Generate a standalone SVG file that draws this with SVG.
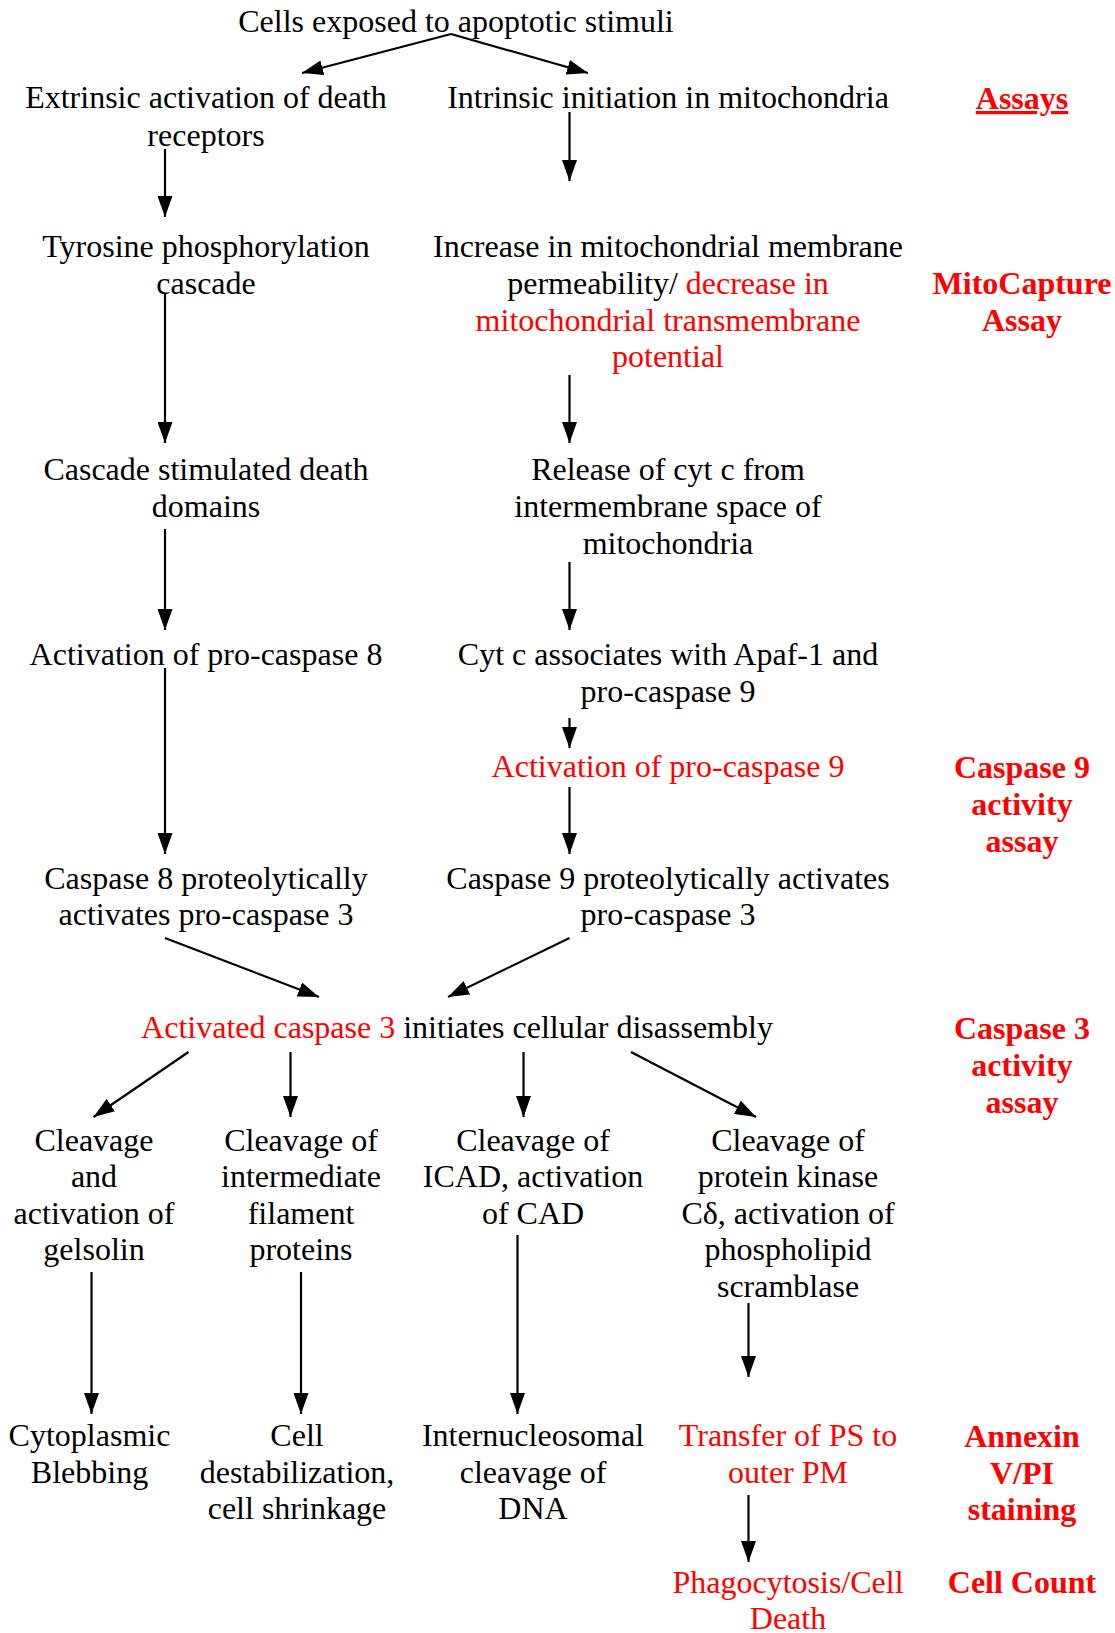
<svg xmlns="http://www.w3.org/2000/svg" width="1115" height="1633" viewBox="0 0 1115 1633">
<style>
text{font-family:"Liberation Serif","Times New Roman",serif;font-size:32px;fill:#000;text-anchor:middle}
.r{fill:#ff0000}
.a{fill:#ff0000;font-weight:bold}
.c{stroke:#000;stroke-width:2.2;fill:none;marker-end:url(#ah)}
</style>
<defs>
<marker id="ah" markerUnits="userSpaceOnUse" markerWidth="21" markerHeight="15" refX="21" refY="7.5" orient="auto">
<path d="M0,0 L21,7.5 L0,15 z" fill="#000"/>
</marker>
</defs>
<rect width="1115" height="1633" fill="#fff"/>
<g id="connectors">
<line class="c" x1="451" y1="34" x2="302" y2="73"/>
<line class="c" x1="451" y1="34" x2="588" y2="73"/>
<line class="c" x1="165" y1="149" x2="165" y2="217"/>
<line class="c" x1="569.5" y1="112" x2="569.5" y2="181"/>
<line class="c" x1="165" y1="293" x2="165" y2="443"/>
<line class="c" x1="569.5" y1="375" x2="569.5" y2="443"/>
<line class="c" x1="165" y1="529" x2="165" y2="630"/>
<line class="c" x1="569.5" y1="562" x2="569.5" y2="630"/>
<line class="c" x1="165" y1="668" x2="165" y2="854"/>
<line class="c" x1="569.5" y1="718" x2="569.5" y2="748"/>
<line class="c" x1="569.5" y1="787" x2="569.5" y2="854"/>
<line class="c" x1="165" y1="938" x2="319" y2="997"/>
<line class="c" x1="569.5" y1="938" x2="448" y2="997"/>
<line class="c" x1="188.5" y1="1052" x2="93.5" y2="1117"/>
<line class="c" x1="290.5" y1="1052" x2="290.5" y2="1117"/>
<line class="c" x1="523.5" y1="1052" x2="523.5" y2="1117"/>
<line class="c" x1="631" y1="1052" x2="756" y2="1117"/>
<line class="c" x1="91.5" y1="1272" x2="91.5" y2="1414"/>
<line class="c" x1="301" y1="1272" x2="301" y2="1414"/>
<line class="c" x1="517.5" y1="1235" x2="517.5" y2="1414"/>
<line class="c" x1="748.5" y1="1303" x2="748.5" y2="1377"/>
<line class="c" x1="748.5" y1="1495" x2="748.5" y2="1562"/>
</g>
<g id="n-stimuli"><text x="456" y="32">Cells exposed to apoptotic stimuli</text></g>
<g id="n-extrinsic"><text x="206" y="108">Extrinsic activation of death</text><text x="206" y="145.5">receptors</text></g>
<g id="n-intrinsic"><text x="668" y="108">Intrinsic initiation in mitochondria</text></g>
<g id="n-assays"><text class="a" x="1022" y="109" text-decoration="underline">Assays</text></g>
<g id="n-tyrosine"><text x="206" y="257">Tyrosine phosphorylation</text><text x="206" y="294">cascade</text></g>
<g id="n-permeability"><text x="668" y="257">Increase in mitochondrial membrane</text><text x="668" y="294">permeability/ <tspan class="r">decrease in</tspan></text><text class="r" x="668" y="330.5">mitochondrial transmembrane</text><text class="r" x="668" y="367">potential</text></g>
<g id="n-mitocapture"><text class="a" x="1022" y="294">MitoCapture</text><text class="a" x="1022" y="330.5">Assay</text></g>
<g id="n-death-domains"><text x="206" y="480">Cascade stimulated death</text><text x="206" y="517">domains</text></g>
<g id="n-cytc"><text x="668" y="480">Release of cyt c from</text><text x="668" y="517">intermembrane space of</text><text x="668" y="554">mitochondria</text></g>
<g id="n-procasp8"><text x="206" y="665">Activation of pro-caspase 8</text></g>
<g id="n-apaf"><text x="668" y="665">Cyt c associates with Apaf-1 and</text><text x="668" y="702">pro-caspase 9</text></g>
<g id="n-procasp9"><text class="r" x="668" y="777">Activation of pro-caspase 9</text></g>
<g id="n-casp9-assay"><text class="a" x="1022" y="778">Caspase 9</text><text class="a" x="1022" y="815">activity</text><text class="a" x="1022" y="852">assay</text></g>
<g id="n-casp8-act"><text x="206" y="889">Caspase 8 proteolytically</text><text x="206" y="925">activates pro-caspase 3</text></g>
<g id="n-casp9-act"><text x="668" y="889">Caspase 9 proteolytically activates</text><text x="668" y="925">pro-caspase 3</text></g>
<g id="n-casp3"><text x="457" y="1038"><tspan class="r">Activated caspase 3</tspan> initiates cellular disassembly</text></g>
<g id="n-casp3-assay"><text class="a" x="1022" y="1039">Caspase 3</text><text class="a" x="1022" y="1076">activity</text><text class="a" x="1022" y="1113">assay</text></g>
<g id="n-gelsolin"><text x="94" y="1151">Cleavage</text><text x="94" y="1187">and</text><text x="94" y="1224">activation of</text><text x="94" y="1260">gelsolin</text></g>
<g id="n-filament"><text x="301" y="1151">Cleavage of</text><text x="301" y="1187">intermediate</text><text x="301" y="1224">filament</text><text x="301" y="1260">proteins</text></g>
<g id="n-icad"><text x="533" y="1151">Cleavage of</text><text x="533" y="1187">ICAD, activation</text><text x="533" y="1224">of CAD</text></g>
<g id="n-pkc"><text x="788" y="1151">Cleavage of</text><text x="788" y="1187">protein kinase</text><text x="788" y="1224">Cδ, activation of</text><text x="788" y="1260">phospholipid</text><text x="788" y="1297">scramblase</text></g>
<g id="n-blebbing"><text x="89.5" y="1446">Cytoplasmic</text><text x="89.5" y="1482.5">Blebbing</text></g>
<g id="n-shrinkage"><text x="297" y="1446">Cell</text><text x="297" y="1482.5">destabilization,</text><text x="297" y="1519">cell shrinkage</text></g>
<g id="n-dna"><text x="533" y="1446">Internucleosomal</text><text x="533" y="1482.5">cleavage of</text><text x="533" y="1519">DNA</text></g>
<g id="n-ps"><text class="r" x="788" y="1446">Transfer of PS to</text><text class="r" x="788" y="1482.5">outer PM</text></g>
<g id="n-annexin"><text class="a" x="1022" y="1447">Annexin</text><text class="a" x="1022" y="1483.5">V/PI</text><text class="a" x="1022" y="1520">staining</text></g>
<g id="n-phago"><text class="r" x="788" y="1593">Phagocytosis/Cell</text><text class="r" x="788" y="1629">Death</text></g>
<g id="n-cellcount"><text class="a" x="1022" y="1593">Cell Count</text></g>
</svg>
